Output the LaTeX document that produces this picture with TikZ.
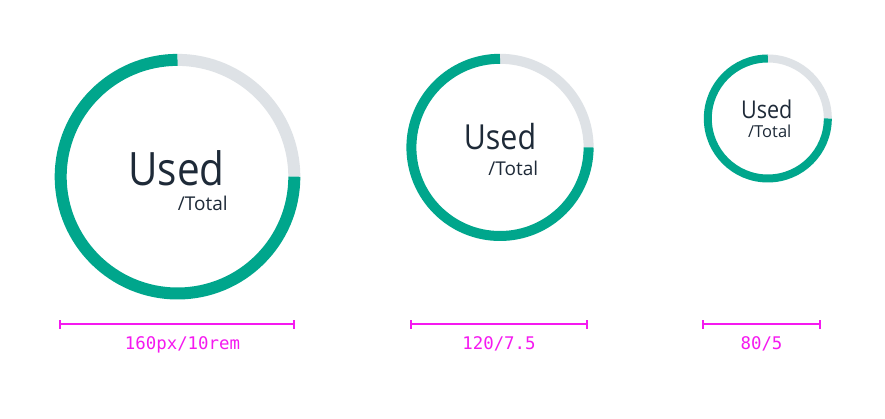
\documentclass[tikz,border=0pt]{standalone}
\usepackage{fontspec}
\setmainfont{Open Sans}
\newfontfamily\labelfont[FakeStretch=0.88]{Open Sans}
\newfontfamily\totalfont{Open Sans}
\newfontfamily\dimfont{DejaVu Sans Mono}
\definecolor{ringgreen}{RGB}{0,166,140}
\definecolor{ringgray}{RGB}{222,226,230}
\definecolor{dimpink}{RGB}{245,25,240}
\definecolor{inktext}{RGB}{30,42,56}
\tikzset{
  usedlabel/.style={inner sep=0pt, anchor=base, text=inktext},
  totallabel/.style={inner sep=0pt, anchor=base east, text=inktext},
  dimline/.style={draw=dimpink, line width=2pt},
  dimtext/.style={inner sep=0pt, anchor=base, text=dimpink, font=\dimfont\fontsize{17.4}{19}\selectfont},
}
\begin{document}
\begin{tikzpicture}[x=1pt,y=1pt]
\useasboundingbox[fill=white] (0,0) rectangle (885,419);
% large ring
\coordinate (c1) at (177.5,242.3);
\draw[ringgray, line width=12pt] (c1) ++(0:116.8) arc[start angle=0, end angle=90, radius=116.8];
\draw[ringgreen, line width=12pt] (c1) ++(90:116.8) arc[start angle=90, end angle=360, radius=116.8];
\node[usedlabel, font=\labelfont\fontsize{46}{50}\selectfont] (u1) at (176.5,233) {Used};
\node[totallabel, font=\totalfont\fontsize{19}{22}\selectfont] (t1) at ([xshift=3pt]u1.east |- 0,208) {/Total};
% medium ring
\coordinate (c2) at (500,271.6);
\draw[ringgray, line width=10pt] (c2) ++(0:88.6) arc[start angle=0, end angle=90, radius=88.6];
\draw[ringgreen, line width=10pt] (c2) ++(90:88.6) arc[start angle=90, end angle=360, radius=88.6];
\node[usedlabel, font=\labelfont\fontsize{34.5}{38}\selectfont] (u2) at (500,269) {Used};
\node[totallabel, font=\totalfont\fontsize{19}{22}\selectfont] (t2) at ([xshift=2pt]u2.east |- 0,243) {/Total};
% small ring
\coordinate (c3) at (767.8,300.5);
\draw[ringgray, line width=8pt] (c3) ++(0:60) arc[start angle=0, end angle=90, radius=60];
\draw[ringgreen, line width=8pt] (c3) ++(90:60) arc[start angle=90, end angle=360, radius=60];
\node[usedlabel, font=\labelfont\fontsize{24.5}{28}\selectfont] (u3) at (766.7,300.7) {Used};
\node[totallabel, font=\totalfont\fontsize{16.5}{19}\selectfont] (t3) at ([xshift=-1pt]u3.east |- 0,281.7) {/Total};
% dimension lines
\coordinate (d1a) at (60,94.5); \coordinate (d1b) at (294,94.5);
\draw[dimline] (d1a) -- (d1b);
\draw[dimline] ([yshift=-4.5pt]d1a) -- ([yshift=4.5pt]d1a);
\draw[dimline] ([yshift=-4.5pt]d1b) -- ([yshift=4.5pt]d1b);
\node[dimtext] (l1) at (182.5,69) {160px/10rem};
\coordinate (d2a) at (410.7,94.5); \coordinate (d2b) at (586.7,94.5);
\draw[dimline] (d2a) -- (d2b);
\draw[dimline] ([yshift=-4.5pt]d2a) -- ([yshift=4.5pt]d2a);
\draw[dimline] ([yshift=-4.5pt]d2b) -- ([yshift=4.5pt]d2b);
\node[dimtext] (l2) at (499,69) {120/7.5};
\coordinate (d3a) at (702.7,94.5); \coordinate (d3b) at (820,94.5);
\draw[dimline] (d3a) -- (d3b);
\draw[dimline] ([yshift=-4.5pt]d3a) -- ([yshift=4.5pt]d3a);
\draw[dimline] ([yshift=-4.5pt]d3b) -- ([yshift=4.5pt]d3b);
\node[dimtext] (l3) at (761.5,69) {80/5};
\end{tikzpicture}
\end{document}
